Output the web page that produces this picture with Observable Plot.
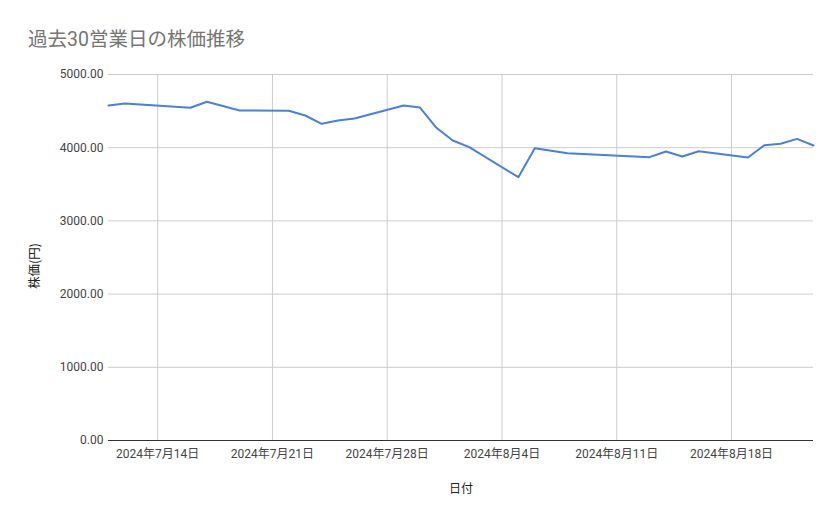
<!DOCTYPE html>
<html>
<head>
<meta charset="utf-8">
<script src="https://cdn.jsdelivr.net/npm/d3@7"></script>
<script src="https://cdn.jsdelivr.net/npm/@observablehq/plot@0.6"></script>
<style>
  html, body { margin: 0; padding: 0; background: #fff; }
  #wrap { position: relative; width: 839px; height: 519px; font-family: Roboto, "Noto Sans CJK JP", sans-serif; }
  #title { position: absolute; left: 28px; top: 23px; font-size: 19.5px; color: #757575; font-family: Roboto, "Noto Sans CJK JP", sans-serif; white-space: nowrap; }
  #ylabel { position: absolute; left: 33px; top: 266px; transform: translate(-50%, -50%) rotate(-90deg); font-size: 12.5px; color: #222; white-space: nowrap; font-family: "Noto Sans CJK JP", sans-serif; }
  #xlabel { position: absolute; left: 461px; top: 487px; transform: translate(-50%, -50%); font-size: 12px; color: #222; white-space: nowrap; font-family: "Noto Sans CJK JP", sans-serif; }
  #chart { position: absolute; left: 0; top: 0; }
</style>
</head>
<body>
<div id="wrap">
  <div id="chart"></div>
  <div id="title">過去30営業日の株価推移</div>
  <div id="ylabel">株価(円)</div>
  <div id="xlabel">日付</div>
</div>
<script>
const dates = [
  "2024-07-11","2024-07-12","2024-07-16","2024-07-17","2024-07-19",
  "2024-07-22","2024-07-23","2024-07-24","2024-07-25","2024-07-26",
  "2024-07-29","2024-07-30","2024-07-31","2024-08-01","2024-08-02",
  "2024-08-05","2024-08-06","2024-08-08","2024-08-13","2024-08-14",
  "2024-08-15","2024-08-16","2024-08-19","2024-08-20","2024-08-21",
  "2024-08-22","2024-08-23"
];
const prices = [
  4577, 4604, 4545, 4627, 4508,
  4504, 4440, 4326, 4372, 4399,
  4577, 4549, 4272, 4098, 4007,
  3597, 3993, 3925, 3871, 3948,
  3880, 3952, 3866, 4034, 4053,
  4121, 4030
];
const xTickDates = ["2024-07-14","2024-07-21","2024-07-28","2024-08-04","2024-08-11","2024-08-18"];
const yTicks = [0, 1000, 2000, 3000, 4000, 5000];
const xDomain = ["2024-07-11","2024-08-23"];

const data = dates.map((d, i) => ({date: new Date(d + "T00:00:00Z"), price: prices[i]}));
const xt = xTickDates.map(d => new Date(d + "T00:00:00Z"));
const fmt = d => `${d.getUTCFullYear()}年${d.getUTCMonth() + 1}月${d.getUTCDate()}日`;

const chart = Plot.plot({
  width: 839,
  height: 519,
  marginTop: 74,
  marginBottom: 79,
  marginLeft: 108,
  marginRight: 26,
  style: {fontFamily: 'Roboto, "Noto Sans CJK JP", sans-serif', fontSize: "12px", color: "#444", background: "transparent"},
  x: {type: "utc", domain: xDomain.map(d => new Date(d + "T00:00:00Z"))},
  y: {domain: [0, 5000]},
  marks: [
    Plot.gridX(xt, {stroke: "#cccccc", strokeOpacity: 1, strokeWidth: 1}),
    Plot.gridY(yTicks.filter(v => v > 0), {stroke: "#cccccc", strokeOpacity: 1, strokeWidth: 1}),
    Plot.ruleY([0], {stroke: "#333333", strokeWidth: 1}),
    Plot.lineY(data, {x: "date", y: "price", stroke: "#4a80d9", strokeWidth: 2}),
    Plot.axisX(xt, {tickFormat: fmt, tickSize: 0, tickPadding: 9, label: null, fill: "#444", fontSize: 12}),
    Plot.axisY(yTicks, {tickFormat: d => d.toFixed(2), tickSize: 0, tickPadding: 5, label: null, fill: "#444", fontSize: 12})
  ]
});
document.getElementById("chart").appendChild(chart);
</script>
</body>
</html>
